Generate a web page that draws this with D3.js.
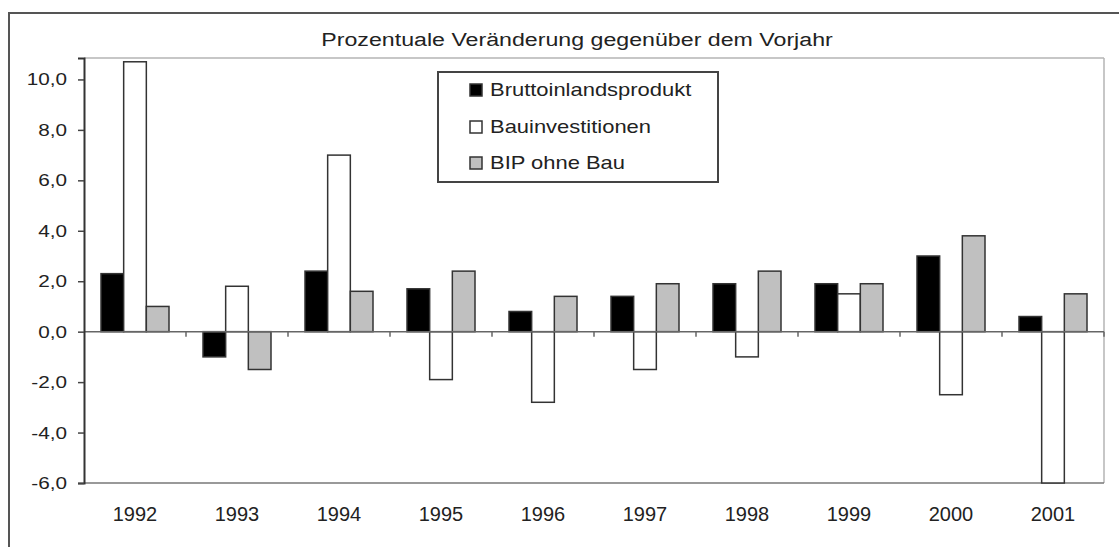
<!DOCTYPE html>
<html>
<head>
<meta charset="utf-8">
<script src="https://cdn.jsdelivr.net/npm/d3@7"></script>
<style>
  html, body { margin: 0; padding: 0; background: #fff; }
  svg { display: block; font-family: "Liberation Sans", Arial, sans-serif; }
</style>
</head>
<body>
<svg id="chart" width="1119" height="547"></svg>
<script>
// --- data ---
const years = ["1992", "1993", "1994", "1995", "1996", "1997", "1998", "1999", "2000", "2001"];
const seriesNames = ["Bruttoinlandsprodukt", "Bauinvestitionen", "BIP ohne Bau"];
const bip      = [2.3, -1.0, 2.4, 1.7, 0.8, 1.4, 1.9, 1.9, 3.0, 0.6];
const bau      = [10.7, 1.8, 7.0, -1.9, -2.8, -1.5, -1.0, 1.5, -2.5, -6.0];
const bipOhne  = [1.0, -1.5, 1.6, 2.4, 1.4, 1.9, 2.4, 1.9, 3.8, 1.5];
const yTicks   = [-6, -4, -2, 0, 2, 4, 6, 8, 10];
const title    = "Prozentuale Veränderung gegenüber dem Vorjahr";

const fills = ["#000000", "#ffffff", "#c0c0c0"];
const SX = 1.22; // the scan is stretched sideways

const svg = d3.select("#chart");
const plot = { left: 84, right: 1104, top: 58, bottom: 483 };

// outer frame (cut off at right and bottom)
svg.append("rect")
    .attr("x", 9).attr("y", 13)
    .attr("width", 1200).attr("height", 600)
    .attr("fill", "none").attr("stroke", "#555").attr("stroke-width", 2);

// title
svg.append("text")
    .attr("transform", `translate(577,46) scale(${SX},1)`)
    .attr("text-anchor", "middle")
    .attr("font-size", 19)
    .attr("fill", "#222")
    .text(title);

// scales
const x = d3.scaleBand().domain(years).range([plot.left, plot.right]);
const xs = d3.scaleBand().domain(seriesNames).range([0, x.bandwidth()])
    .paddingInner(0).paddingOuter(0.75);
const y = d3.scaleLinear().domain([-6, 10.85]).range([plot.bottom, plot.top]);

// plot area border (top / right light, bottom grey)
svg.append("line").attr("x1", plot.left).attr("x2", plot.right)
    .attr("y1", plot.top).attr("y2", plot.top)
    .attr("stroke", "#b5b5b5").attr("stroke-width", 1.5);
svg.append("line").attr("x1", plot.right).attr("x2", plot.right)
    .attr("y1", plot.top).attr("y2", plot.bottom)
    .attr("stroke", "#b5b5b5").attr("stroke-width", 1.5);
svg.append("line").attr("x1", plot.left).attr("x2", plot.right)
    .attr("y1", plot.bottom).attr("y2", plot.bottom)
    .attr("stroke", "#777").attr("stroke-width", 1.5);

// bars
const data = [bip, bau, bipOhne];
seriesNames.forEach((name, si) => {
    svg.append("g").selectAll("rect")
        .data(years.map((yr, i) => ({ yr, v: data[si][i] })))
        .enter().append("rect")
        .attr("x", d => x(d.yr) + xs(name))
        .attr("width", xs.bandwidth())
        .attr("y", d => y(Math.max(0, d.v)))
        .attr("height", d => Math.abs(y(d.v) - y(0)))
        .attr("fill", fills[si])
        .attr("stroke", "#333")
        .attr("stroke-width", 1.5);
});

// zero line with category boundary ticks
const zeroY = y(0);
svg.append("line").attr("x1", plot.left).attr("x2", plot.right)
    .attr("y1", zeroY).attr("y2", zeroY)
    .attr("stroke", "#666").attr("stroke-width", 1.5);
svg.append("g").selectAll("line")
    .data(years.slice(1).map(d => x(d)).concat([plot.right]))
    .enter().append("line")
    .attr("x1", d => d).attr("x2", d => d)
    .attr("y1", zeroY).attr("y2", zeroY + 5)
    .attr("stroke", "#666").attr("stroke-width", 1.5);

// y axis
const de = d3.formatLocale({ decimal: ",", thousands: ".", grouping: [3], currency: ["", " €"], minus: "-" });
const yAxis = svg.append("g")
    .attr("transform", `translate(${plot.left},0)`)
    .call(d3.axisLeft(y).tickValues(yTicks).tickSize(6).tickFormat(de.format(".1f")));
yAxis.select(".domain").attr("stroke", "#333").attr("stroke-width", 2);
yAxis.selectAll(".tick line").attr("stroke", "#444").attr("stroke-width", 1.5);
yAxis.selectAll(".tick text")
    .attr("x", null)
    .attr("transform", `translate(-17,0) scale(${SX},1)`)
    .attr("font-size", 17)
    .attr("fill", "#222")
    .attr("font-family", "Liberation Sans, Arial, sans-serif");

// x labels
const xAxis = svg.append("g")
    .attr("transform", `translate(0,${plot.bottom})`)
    .call(d3.axisBottom(x).tickSize(0).tickPadding(24));
xAxis.select(".domain").remove();
xAxis.selectAll(".tick text")
    .attr("font-size", 20)
    .attr("fill", "#222")
    .attr("font-family", "Liberation Sans, Arial, sans-serif");

// legend
const legend = svg.append("g").attr("transform", "translate(438,72)");
legend.append("rect")
    .attr("width", 280).attr("height", 110)
    .attr("fill", "#fff").attr("stroke", "#444").attr("stroke-width", 2);
const rowY = [18, 55, 91];
seriesNames.forEach((name, i) => {
    legend.append("rect")
        .attr("x", 32).attr("y", rowY[i] - 6)
        .attr("width", 12).attr("height", 12)
        .attr("fill", fills[i]).attr("stroke", "#333").attr("stroke-width", 1.5);
    legend.append("text")
        .attr("transform", `translate(52,${rowY[i]}) scale(${SX},1)`)
        .attr("dy", "0.36em")
        .attr("font-size", 18)
        .attr("fill", "#222")
        .text(name);
});
</script>
</body>
</html>
